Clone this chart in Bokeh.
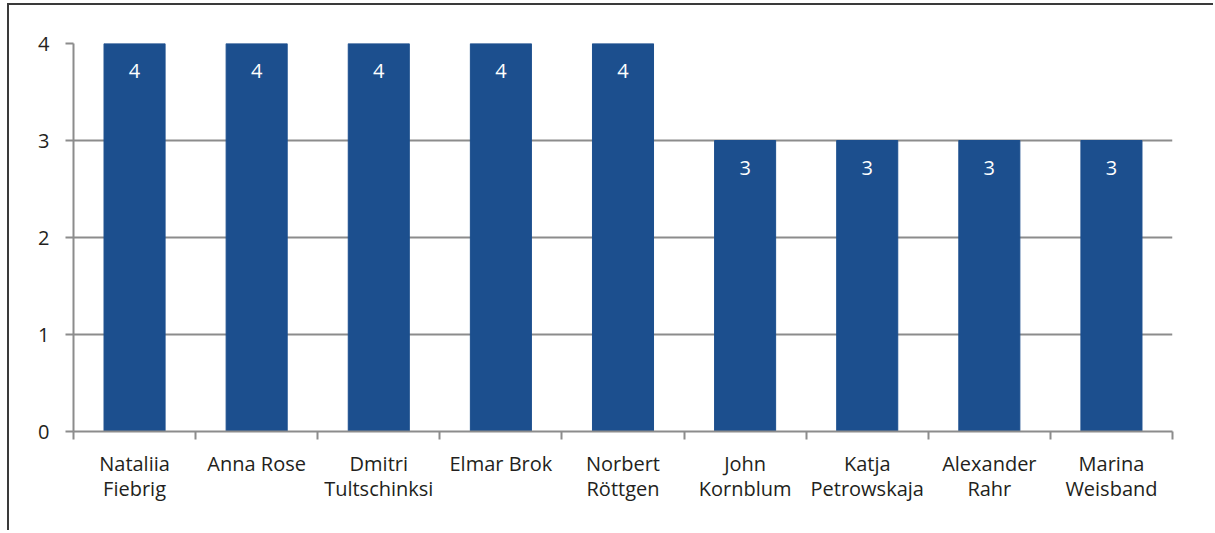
from bokeh.plotting import figure
from bokeh.models import ColumnDataSource, FixedTicker, Range1d, LabelSet
from bokeh.core.properties import value
from bokeh.embed import file_html
from bokeh.resources import INLINE

names = ["Nataliia\nFiebrig", "Anna Rose", "Dmitri\nTultschinksi", "Elmar Brok",
         "Norbert\nRöttgen", "John\nKornblum", "Katja\nPetrowskaja", "Alexander\nRahr",
         "Marina\nWeisband"]
values = [4, 4, 4, 4, 4, 3, 3, 3, 3]
y_ticks = [0, 1, 2, 3, 4]

FONT = "Open Sans"
TEXT = "#231f20"
GRID = "#8c8c8c"
BAR = "#1c4f8e"

xs = [i + 0.5 for i in range(len(names))]
src = ColumnDataSource(dict(x=xs, top=values, lab=[str(v) for v in values]))

p = figure(width=1206, height=527, output_backend="svg", toolbar_location=None,
           x_range=Range1d(0, len(names)), y_range=Range1d(0, 4),
           min_border_left=64, min_border_right=43, min_border_top=38, min_border_bottom=101)
p.styles = {"border-top": "2px solid #3a3a3a", "border-left": "2px solid #3a3a3a",
            "margin-top": "3px", "margin-left": "7px"}
p.outline_line_color = None
p.background_fill_color = "white"

p.vbar(x="x", top="top", width=0.5, bottom=0, source=src, color=BAR, line_color=BAR)

labels = LabelSet(x="x", y="top", text="lab", source=src, text_color="white",
                  text_font=value(FONT), text_font_size="20px", text_align="center",
                  text_baseline="middle", y_offset=-27)
p.add_layout(labels)

# x axis
xa = p.xaxis[0]
xa.ticker = FixedTicker(ticks=xs, minor_ticks=list(range(len(names) + 1)))
xa.major_label_overrides = {x: n for x, n in zip(xs, names)}
xa.major_tick_line_color = None
xa.major_tick_out = 0
xa.major_tick_in = 0
xa.minor_tick_out = 8
xa.minor_tick_in = 0
xa.minor_tick_line_color = GRID
xa.minor_tick_line_width = 2
xa.axis_line_color = GRID
xa.axis_line_width = 2
xa.major_label_text_font = FONT
xa.major_label_text_font_size = "20px"
xa.major_label_text_color = TEXT
xa.major_label_text_line_height = 0.93
xa.major_label_standoff = 10

# y axis
ya = p.yaxis[0]
ya.ticker = FixedTicker(ticks=y_ticks)
ya.major_tick_out = 8
ya.major_tick_in = 0
ya.major_tick_line_color = GRID
ya.major_tick_line_width = 2
ya.minor_tick_line_color = None
ya.axis_line_color = GRID
ya.axis_line_width = 2
ya.major_label_text_font = FONT
ya.major_label_text_font_size = "20px"
ya.major_label_text_color = TEXT
ya.major_label_standoff = 16

p.xgrid.grid_line_color = None
p.ygrid.ticker = FixedTicker(ticks=y_ticks)
p.ygrid.grid_line_color = GRID
p.ygrid.grid_line_width = 2

open("out.html", "w").write(file_html(p, INLINE))
